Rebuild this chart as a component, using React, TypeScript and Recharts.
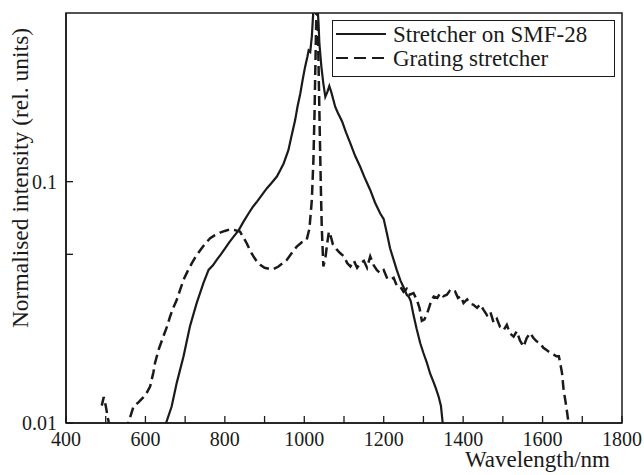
import { LineChart, Line, XAxis, YAxis, ReferenceArea } from "recharts";

// Stretcher on SMF-28 (solid)
const smfWavelength = [
  640, 652, 666, 679, 696, 712, 729, 746, 759, 770, 780, 790, 801, 811, 822,
  835, 847, 860, 870, 881, 893, 906, 918, 931, 940, 948, 960, 968, 977, 983,
  990, 996, 1002, 1008, 1011, 1015, 1019, 1024, 1028, 1032, 1036, 1038, 1043,
  1048, 1053, 1058, 1063, 1068, 1078, 1085, 1095, 1105, 1116, 1128, 1141,
  1153, 1166, 1178, 1191, 1200, 1208, 1216, 1225, 1233, 1242, 1250, 1258,
  1263, 1268, 1275, 1283, 1292, 1300, 1309, 1317, 1326, 1332, 1338, 1344,
  1348, 1355,
];
const smfIntensity = [
  0.0085, 0.01, 0.0117, 0.0147, 0.0189, 0.0251, 0.0314, 0.038, 0.0431, 0.045,
  0.0475, 0.05, 0.053, 0.056, 0.0592, 0.063, 0.0683, 0.074, 0.0785, 0.0827,
  0.088, 0.094, 0.099, 0.105, 0.112, 0.119, 0.135, 0.155, 0.18, 0.205, 0.232,
  0.265, 0.299, 0.33, 0.35, 0.345, 0.4, 0.55, 0.65, 0.58, 0.45, 0.374, 0.3,
  0.255, 0.225, 0.235, 0.249, 0.235, 0.204, 0.192, 0.178, 0.16, 0.144, 0.128,
  0.115, 0.103, 0.0924, 0.082, 0.074, 0.07, 0.0611, 0.053, 0.0474, 0.043,
  0.039, 0.0365, 0.034, 0.0334, 0.032, 0.028, 0.0245, 0.0214, 0.0195, 0.0177,
  0.016, 0.0147, 0.0138, 0.0129, 0.0118, 0.0102, 0.0085,
];

// Grating stretcher (dashed)
const gratingWavelength = [
  490, 495, 500, 504, 509, 514, 550, 557, 570, 583, 595, 604, 612, 620, 624,
  633, 645, 654, 662, 670, 679, 687, 696, 706, 717, 727, 738, 750, 763, 775,
  788, 800, 813, 825, 838, 846, 855, 863, 872, 880, 889, 900, 911, 922, 935,
  946, 956, 968, 981, 993, 1006, 1013, 1019, 1023, 1026, 1029, 1031, 1033,
  1036, 1039, 1042, 1044, 1048, 1053, 1058, 1062, 1066, 1072, 1081, 1090,
  1100, 1108, 1116, 1125, 1133, 1141, 1150, 1158, 1166, 1175, 1183, 1191,
  1200, 1208, 1216, 1225, 1233, 1242, 1250, 1258, 1266, 1275, 1283, 1290,
  1296, 1302, 1308, 1314, 1320, 1326, 1335, 1342, 1350, 1359, 1366, 1373,
  1380, 1387, 1394, 1401, 1410, 1418, 1426, 1435, 1443, 1451, 1460, 1468,
  1477, 1485, 1493, 1502, 1510, 1518, 1527, 1535, 1543, 1552, 1560, 1569,
  1577, 1585, 1594, 1602, 1611, 1620, 1628, 1635, 1641, 1645, 1649, 1653,
  1658, 1662, 1666, 1670,
];
const gratingIntensity = [
  0.0118, 0.0128, 0.0118, 0.0108, 0.0098, 0.0085, 0.0085, 0.01, 0.0117,
  0.0122, 0.0128, 0.0134, 0.0142, 0.0162, 0.0177, 0.0201, 0.0228, 0.025,
  0.0276, 0.03, 0.0324, 0.0355, 0.0392, 0.0425, 0.046, 0.049, 0.052, 0.0552,
  0.0583, 0.06, 0.0615, 0.0625, 0.0635, 0.063, 0.0621, 0.059, 0.0556, 0.052,
  0.049, 0.0468, 0.0452, 0.044, 0.0436, 0.0434, 0.0445, 0.046, 0.0474,
  0.0505, 0.0538, 0.056, 0.0574, 0.064, 0.084, 0.123, 0.2, 0.38, 0.55, 0.52,
  0.3, 0.16, 0.09, 0.065, 0.0445, 0.048, 0.056, 0.0621, 0.06, 0.055, 0.0525,
  0.0506, 0.049, 0.046, 0.0445, 0.047, 0.044, 0.046, 0.047, 0.044, 0.049,
  0.045, 0.043, 0.0418, 0.043, 0.04, 0.0392, 0.04, 0.037, 0.0367, 0.035,
  0.036, 0.034, 0.0345, 0.0325, 0.03, 0.0265, 0.0268, 0.028, 0.03, 0.0322,
  0.0334, 0.033, 0.0345, 0.0335, 0.034, 0.0352, 0.0345, 0.035, 0.033, 0.0335,
  0.0314, 0.0325, 0.0312, 0.0309, 0.03, 0.031, 0.0295, 0.028, 0.029, 0.026,
  0.027, 0.025, 0.0243, 0.0255, 0.0235, 0.0228, 0.024, 0.022, 0.0207, 0.0225,
  0.0236, 0.0225, 0.0218, 0.0214, 0.0205, 0.02, 0.0195, 0.0192, 0.0189,
  0.0189, 0.0175, 0.0161, 0.0137, 0.0122, 0.011, 0.0098, 0.0085,
];

const xTicks = [400, 500, 600, 700, 800, 900, 1000, 1100, 1200, 1300, 1400, 1500, 1600, 1700, 1800];
const xLabels = [400, 600, 800, 1000, 1200, 1400, 1600, 1800];
const yTicks = [0.01, 0.05, 0.1];
const yLabels = [0.01, 0.1];

const smfData = smfWavelength.map((wl, i) => ({ wl, v: smfIntensity[i] }));
const gratingData = gratingWavelength.map((wl, i) => ({ wl, v: gratingIntensity[i] }));

const FONT = "Liberation Serif, Times New Roman, serif";
const INK = "#1a1a1a";
const txt = (size) => ({ fontFamily: FONT, fontSize: size, fill: INK });

const XTick = (props) => {
  const { x, y, payload } = props;
  return (
    <g>
      <line x1={x} y1={y} x2={x} y2={y - 7} stroke={INK} strokeWidth={1.3} />
      {xLabels.includes(payload.value) && (
        <text x={x} y={y + 23} textAnchor="middle" style={txt(20)}>
          {payload.value}
        </text>
      )}
    </g>
  );
};

const YTick = (props) => {
  const { x, y, payload } = props;
  return (
    <g>
      <line x1={x} y1={y} x2={x + 7} y2={y} stroke={INK} strokeWidth={1.3} />
      {yLabels.includes(payload.value) && (
        <text x={x - 9} y={y + 7} textAnchor="end" style={txt(20)}>
          {payload.value}
        </text>
      )}
    </g>
  );
};

const XLabel = () => (
  <text x={610} y={467} textAnchor="end" style={txt(23)}>
    Wavelength/nm
  </text>
);

const YLabel = () => (
  <text
    x={20}
    y={178}
    transform="rotate(-90 20 178)"
    textAnchor="middle"
    dominantBaseline="central"
    style={txt(23.5)}
  >
    Normalised intensity (rel. units)
  </text>
);

const ChartLegend = () => (
  <div
    style={{
      position: "absolute",
      left: 332,
      top: 20,
      width: 283,
      height: 57,
      border: `1.5px solid ${INK}`,
      boxSizing: "border-box",
      background: "#fff",
    }}
  >
    <svg width={283} height={57} style={{ position: "absolute", left: -1.5, top: -1.5 }}>
      <line x1={4} y1={14} x2={54} y2={14} stroke={INK} strokeWidth={2.2} />
      <text x={61} y={21.5} style={txt(23)}>
        Stretcher on SMF-28
      </text>
      <line x1={4} y1={38} x2={54} y2={38} stroke={INK} strokeWidth={2.2} strokeDasharray="12 6" />
      <text x={61} y={46} style={txt(23)}>
        Grating stretcher
      </text>
    </svg>
  </div>
);

export default function App() {
  return (
    <div style={{ position: "absolute", left: 0, top: 0, width: 644, height: 475, background: "#fff" }}>
      <LineChart width={644} height={475} margin={{ top: 13, right: 22, bottom: 0, left: 0 }}>
        <XAxis
          dataKey="wl"
          type="number"
          domain={[400, 1800]}
          ticks={xTicks}
          allowDataOverflow
          height={52}
          tickSize={0}
          tickMargin={0}
          tickLine={false}
          tick={<XTick />}
          axisLine={{ stroke: INK, strokeWidth: 1.5 }}
          label={<XLabel />}
        />
        <YAxis
          dataKey="v"
          type="number"
          scale="log"
          domain={[0.01, 0.5]}
          ticks={yTicks}
          allowDataOverflow
          width={66}
          tickSize={0}
          tickMargin={0}
          tickLine={false}
          tick={<YTick />}
          axisLine={{ stroke: INK, strokeWidth: 1.5 }}
          label={<YLabel />}
        />
        <ReferenceArea x1={400} x2={1800} y1={0.01} y2={0.5} fill="none" stroke={INK} strokeWidth={1.5} />
        <Line
          data={gratingData}
          dataKey="v"
          type="linear"
          stroke={INK}
          strokeWidth={2.5}
          strokeDasharray="10 5"
          dot={false}
          isAnimationActive={false}
        />
        <Line
          data={smfData}
          dataKey="v"
          type="linear"
          stroke={INK}
          strokeWidth={2.2}
          dot={false}
          isAnimationActive={false}
        />
      </LineChart>
      <ChartLegend />
    </div>
  );
}
